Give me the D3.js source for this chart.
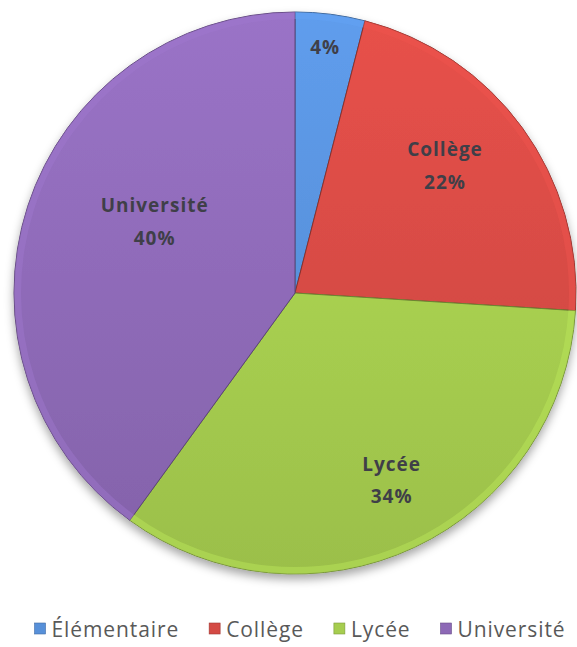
<!DOCTYPE html>
<html>
<head>
<meta charset="utf-8">
<script src="https://cdn.jsdelivr.net/npm/d3@7"></script>
<style>
  body { margin: 0; background: #fff; }
  svg { display: block; }
  .lbl { font-family: "Open Sans", sans-serif; font-weight: 700; font-size: 19px; letter-spacing: 1px; fill: #3f3f48; }
  .leg { font-family: "Open Sans", sans-serif; font-size: 21px; letter-spacing: 0.9px; fill: #595959; }
</style>
</head>
<body>
<div class="container"></div>
<script>
const categories = ["Élémentaire", "Collège", "Lycée", "Université"];
const shares = [4, 22, 34, 40];
const colors = ["#5790d9", "#d44a44", "#a6cd4f", "#8d69b6"];

const width = 577, height = 647;
const cx = 295, cy = 293, radius = 281;

// where Excel's "best fit" put each label: radius fraction + angle nudge (deg)
const labelPos = {
  "Élémentaire": { r: 0.88, da: -0.2 },
  "Collège": { r: 0.70, da: -4.3 },
  "Lycée": { r: 0.75, da: -2.1 },
  "Université": { r: 0.56, da: 8.9 }
};

const svg = d3.select(".container")
  .append("svg")
  .attr("width", width)
  .attr("height", height);

const defs = svg.append("defs");

const shadow = defs.append("filter")
  .attr("id", "shadow")
  .attr("x", "-10%").attr("y", "-10%")
  .attr("width", "120%").attr("height", "125%");
shadow.append("feDropShadow")
  .attr("dx", 0).attr("dy", 5)
  .attr("stdDeviation", 5)
  .attr("flood-color", "#000")
  .attr("flood-opacity", 0.35);

// top-to-bottom shading per slice colour
colors.forEach((c, i) => {
  const g = defs.append("linearGradient")
    .attr("id", "grad" + i)
    .attr("gradientUnits", "userSpaceOnUse")
    .attr("x1", 0).attr("y1", -radius)
    .attr("x2", 0).attr("y2", radius);
  g.append("stop").attr("offset", "0%").attr("stop-color", d3.color(c).brighter(0.25));
  g.append("stop").attr("offset", "100%").attr("stop-color", d3.color(c).darker(0.2));
});

const pie = d3.pie().sort(null).value(d => d.value);
const arc = d3.arc().innerRadius(0).outerRadius(radius);
const rim = d3.arc().innerRadius(radius - 7).outerRadius(radius);

const data = categories.map((name, i) => ({ name, value: shares[i], i }));
const arcs = pie(data);
const total = d3.sum(shares);

const g = svg.append("g").attr("transform", `translate(${cx},${cy})`);

g.append("g")
  .attr("filter", "url(#shadow)")
  .selectAll("path")
  .data(arcs)
  .enter()
  .append("path")
  .attr("d", arc)
  .attr("fill", d => `url(#grad${d.data.i})`)
  .attr("stroke", d => d3.color(colors[d.data.i]).darker(1.2))
  .attr("stroke-width", 1)
  .attr("stroke-linejoin", "round");

// bevel on the rim
g.append("g")
  .selectAll("path")
  .data(arcs)
  .enter()
  .append("path")
  .attr("d", rim)
  .attr("fill", d => d3.color(colors[d.data.i]).brighter(0.35))
  .attr("opacity", 0.45);

// labels
const labels = g.append("g")
  .selectAll("text")
  .data(arcs)
  .enter()
  .append("text")
  .attr("class", "lbl")
  .attr("text-anchor", "middle")
  .attr("transform", d => {
    const p = labelPos[d.data.name];
    const a = (d.startAngle + d.endAngle) / 2 + p.da * Math.PI / 180;
    const r = radius * p.r;
    return `translate(${r * Math.sin(a)},${-r * Math.cos(a)})`;
  });

labels.each(function (d) {
  const t = d3.select(this);
  const pct = Math.round(d.data.value / total * 100) + "%";
  if (d.data.value < 10) {
    t.append("tspan").attr("x", 0).attr("dy", "0.35em").text(pct);
  } else {
    t.append("tspan").attr("x", 0).attr("dy", "-0.5em").text(d.data.name);
    t.append("tspan").attr("x", 0).attr("dy", "1.7em").text(pct);
  }
});

// legend
const legend = svg.append("g").attr("transform", "translate(0,630)");
const items = legend.selectAll("g")
  .data(data)
  .enter()
  .append("g");

items.append("rect")
  .attr("y", -7)
  .attr("width", 11)
  .attr("height", 11)
  .attr("fill", d => colors[d.i])
  .attr("stroke", d => d3.color(colors[d.i]).darker(0.8))
  .attr("stroke-width", 0.6);

items.append("text")
  .attr("class", "leg")
  .attr("x", 17)
  .attr("y", 0)
  .attr("dy", "0.32em")
  .text(d => d.name);

const gap = 30;
const widths = items.nodes().map(n => n.getBBox().width);
const totalW = d3.sum(widths) + gap * (widths.length - 1);
let xPos = 300 - totalW / 2;
items.attr("transform", (d, i) => {
  const x = xPos;
  xPos += widths[i] + gap;
  return `translate(${x},0)`;
});
</script>
</body>
</html>
